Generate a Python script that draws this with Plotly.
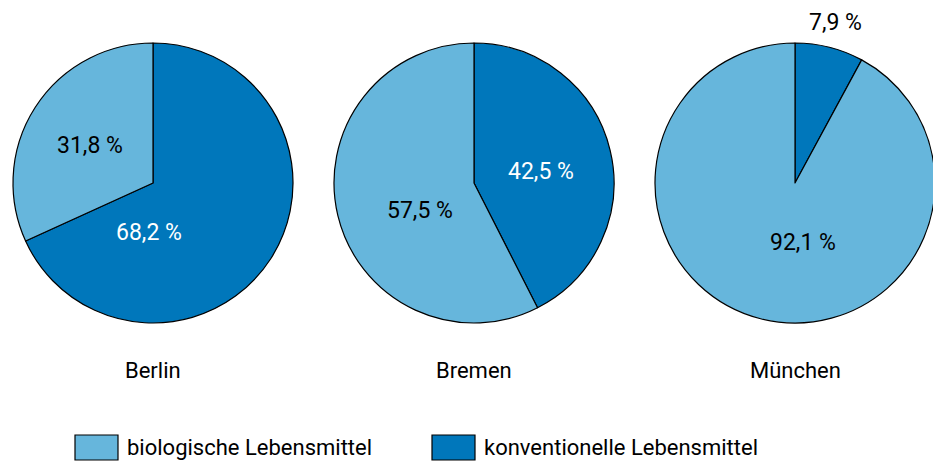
import plotly.graph_objects as go

cities = ["Berlin", "Bremen", "München"]
categories = ["konventionelle Lebensmittel", "biologische Lebensmittel"]
conventional = [68.2, 42.5, 7.9]
biological = [31.8, 57.5, 92.1]
colors = {"biologische Lebensmittel": "#66b6dc", "konventionelle Lebensmittel": "#0077bb"}

# the page body adds an 8px margin, so the figure is drawn 8px in from the corner
OFF = 8
W, H = 941 - OFF, 462 - OFF
FONT = "Roboto, Arial"
centers_x = [153, 474, 795]
center_y = 183
radius = 140


def px(x):
    return (x - OFF) / W


def py(y):
    return 1 - (y - OFF) / H


# hand-placed label spots (pixel centres) for [conventional, biological]
label_pos = [[(149, 232), (90, 145)],
             [(541, 172), (420, 210)],
             [(835, 22), (803, 242)]]

fig = go.Figure()
for i, city in enumerate(cities):
    vals = [conventional[i], biological[i]]
    fig.add_trace(go.Pie(
        labels=categories,
        values=vals,
        textinfo="none",
        marker=dict(colors=[colors[c] for c in categories], line=dict(color="black", width=1.2)),
        sort=False,
        direction="clockwise",
        rotation=0,
        hoverinfo="label+percent",
        showlegend=False,
        domain=dict(x=[px(centers_x[i] - radius), px(centers_x[i] + radius)],
                    y=[py(center_y + radius), py(center_y - radius)]),
    ))
    for j, v in enumerate(vals):
        inside_dark = categories[j] == "konventionelle Lebensmittel" and v > 15
        lx, ly = label_pos[i][j]
        fig.add_annotation(x=px(lx), y=py(ly), xref="paper", yref="paper",
                           xanchor="center", yanchor="middle",
                           text=f"{v:.1f} %".replace(".", ","), showarrow=False,
                           font=dict(family=FONT, size=23, color="white" if inside_dark else "black"))
    fig.add_annotation(x=px(centers_x[i]), y=py(370), xref="paper", yref="paper",
                       xanchor="center", yanchor="middle",
                       text=city, showarrow=False, font=dict(family=FONT, size=22, color="black"))

# legend boxes
legend_items = ["biologische Lebensmittel", "konventionelle Lebensmittel"]
legend_x = [75, 432]
for cat, x0 in zip(legend_items, legend_x):
    fig.add_shape(type="rect", xref="paper", yref="paper",
                  x0=px(x0), x1=px(x0 + 43), y0=py(460), y1=py(435),
                  fillcolor=colors[cat], line=dict(color="black", width=1.2))
    fig.add_annotation(x=px(x0 + 50), y=py(447), xref="paper", yref="paper",
                       xanchor="left", yanchor="middle", text=cat, showarrow=False,
                       font=dict(family=FONT, size=22, color="black"))

fig.update_layout(
    width=W, height=H,
    margin=dict(l=0, r=0, t=0, b=0),
    paper_bgcolor="white",
    plot_bgcolor="white",
)
fig.write_html("out.html")
